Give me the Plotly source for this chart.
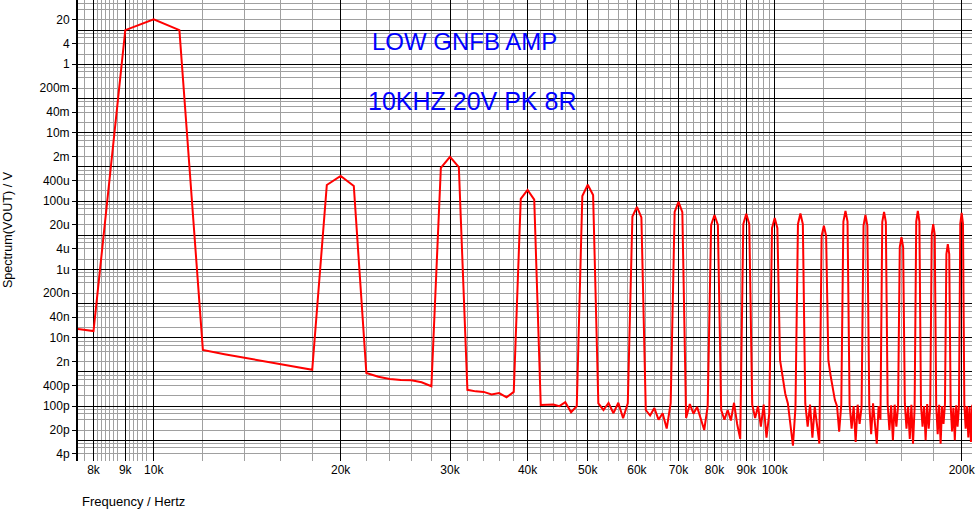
import plotly.graph_objects as go

# ---------------- data ----------------
# FFT bins, 1 kHz apart, 7 kHz .. 210 kHz
freq_hz = [k * 1000 for k in range(7, 211)]

# first two bins (7k, 8k)
head_vals = [22e-9, 15.7e-9]

# harmonic peaks: (n*10k - 1k, n*10k, n*10k + 1k), n = 1..20
peak_vals = [
    (10.0, 20.7, 10.0),
    (295e-6, 540e-6, 275e-6),
    (0.93e-3, 1.95e-3, 0.98e-3),
    (115e-6, 210e-6, 110e-6),
    (140e-6, 300e-6, 150e-6),
    (35e-6, 67e-6, 33e-6),
    (48e-6, 94e-6, 47e-6),
    (20e-6, 39e-6, 20e-6),
    (21e-6, 42e-6, 21e-6),
    (16e-6, 32e-6, 16e-6),
    (21e-6, 43e-6, 21e-6),
    (9.5e-6, 19e-6, 9.5e-6),
    (25e-6, 51e-6, 25e-6),
    (19e-6, 39e-6, 19e-6),
    (24e-6, 48e-6, 24e-6),
    (4.5e-6, 8.8e-6, 4.5e-6),
    (25e-6, 51e-6, 25e-6),
    (10.5e-6, 21e-6, 10.5e-6),
    (2.8e-6, 5.5e-6, 2.8e-6),
    (22e-6, 45e-6, 22e-6),
]

# floor between peaks: bins n*10k+2k .. n*10k+8k, n = 1..19
p = 1e-12
floor_vals = [
    [4.4e-9, 3.3e-9, 2.6e-9, 2.1e-9, 1.7e-9, 1.35e-9, 1.15e-9],
    [0.93e-9, 0.72e-9, 0.62e-9, 0.58e-9, 0.57e-9, 0.50e-9, 0.38e-9],
    [0.30e-9, 0.27e-9, 0.26e-9, 0.22e-9, 0.24e-9, 0.18e-9, 0.26e-9],
    [108 * p, 110 * p, 112 * p, 100 * p, 130 * p, 66 * p, 100 * p],
    [120 * p, 77 * p, 123 * p, 62 * p, 125 * p, 44 * p, 121 * p],
    [77 * p, 53 * p, 88 * p, 40 * p, 62 * p, 22 * p, 121 * p],
    [45 * p, 115 * p, 60 * p, 95 * p, 45 * p, 20 * p, 100 * p],
    [77 * p, 40 * p, 77 * p, 38 * p, 125 * p, 30 * p, 11 * p],
    [110 * p, 45 * p, 100 * p, 25 * p, 110 * p, 12 * p, 60 * p],
    [2.2e-9, 600 * p, 230 * p, 120 * p, 30 * p, 7 * p, 90 * p],
    [120 * p, 25 * p, 110 * p, 12 * p, 95 * p, 28 * p, 8 * p],
    [2.2e-9, 800 * p, 300 * p, 150 * p, 100 * p, 18 * p, 110 * p],
    [115 * p, 22 * p, 100 * p, 9 * p, 110 * p, 30 * p, 95 * p],
    [110 * p, 15 * p, 120 * p, 28 * p, 8 * p, 100 * p, 40 * p],
    [115 * p, 20 * p, 105 * p, 10 * p, 110 * p, 25 * p, 100 * p],
    [120 * p, 22 * p, 95 * p, 11 * p, 110 * p, 8 * p, 90 * p],
    [110 * p, 25 * p, 100 * p, 10 * p, 115 * p, 22 * p, 95 * p],
    [105 * p, 15 * p, 110 * p, 8 * p, 100 * p, 30 * p, 115 * p],
    [110 * p, 18 * p, 90 * p, 10 * p, 105 * p, 25 * p, 100 * p],
]

# last bins 202k .. 210k
tail_vals = [115 * p, 22 * p, 100 * p, 12 * p, 95 * p, 9 * p, 110 * p, 30 * p, 15 * p]

spectrum = list(head_vals)
for i, pk in enumerate(peak_vals):
    spectrum += list(pk)
    if i < len(floor_vals):
        spectrum += floor_vals[i]
spectrum += tail_vals

# axis ticks / labels
x_tick_vals = [8e3, 9e3, 10e3, 20e3, 30e3, 40e3, 50e3, 60e3, 70e3, 80e3, 90e3, 100e3, 200e3]
x_tick_text = ["8k", "9k", "10k", "20k", "30k", "40k", "50k", "60k", "70k", "80k", "90k", "100k", "200k"]
x_minor_vals = ([7750, 8125, 8250, 8375, 8500, 8625, 8750,
                 9140, 9280, 9430, 9590, 9730,
                 12e3, 14e3, 16e3, 18e3]
                + [k * 1000 for k in range(22, 100, 2) if k % 10 != 0]
                + [120e3, 140e3, 160e3, 180e3])

y_tick_vals = [20, 4, 1, 0.2, 0.04, 0.01, 2e-3, 4e-4, 1e-4, 2e-5, 4e-6, 1e-6,
               2e-7, 4e-8, 1e-8, 2e-9, 4e-10, 1e-10, 2e-11, 4e-12]
y_tick_text = ["20", "4", "1", "200m", "40m", "10m", "2m", "400u", "100u", "20u", "4u", "1u",
               "200n", "40n", "10n", "2n", "400p", "100p", "20p", "4p"]
y_decades = [10.0 ** e for e in range(-12, 2)]
y_minor_vals = [m * 10.0 ** e for e in range(-12, 2) for m in (2, 4, 6, 8)]

X_RANGE = [3.8781, 5.3177]
Y_RANGE = [-11.606, 1.881]

FONT = "Liberation Sans, Arial, sans-serif"
GRAY = "#a0a0a0"

fig = go.Figure()
# invisible copy on the overlay axis that carries the black decade grid
fig.add_trace(go.Scatter(
    x=freq_hz, y=spectrum, mode="lines", yaxis="y2",
    line=dict(color="rgba(0,0,0,0)", width=0),
    showlegend=False, hoverinfo="skip",
))
fig.add_trace(go.Scatter(
    x=freq_hz, y=spectrum, mode="lines",
    line=dict(color="#ff0000", width=2),
    showlegend=False, hoverinfo="x+y",
))

fig.update_layout(
    width=976, height=509,
    margin=dict(l=78, r=4, t=0, b=48, autoexpand=False),
    paper_bgcolor="white", plot_bgcolor="white",
    font=dict(family=FONT, size=12, color="black"),
    xaxis=dict(
        type="log", range=X_RANGE, automargin=False,
        tickmode="array", tickvals=x_tick_vals, ticktext=x_tick_text,
        showgrid=True, gridcolor="black", gridwidth=1,
        ticks="", showline=False, zeroline=False,
        tickfont=dict(family=FONT, size=12, color="black"),
        minor=dict(tickvals=x_minor_vals, showgrid=True, gridcolor=GRAY, gridwidth=1, ticks=""),
    ),
    yaxis=dict(
        type="log", range=Y_RANGE, automargin=False,
        tickmode="array", tickvals=y_tick_vals, ticktext=y_tick_text,
        showgrid=False, ticks="outside", ticklen=4, tickwidth=1, tickcolor="black",
        showline=True, linecolor="black", linewidth=2, zeroline=False,
        tickfont=dict(family=FONT, size=12, color="black"),
        minor=dict(tickvals=y_minor_vals, showgrid=True, gridcolor=GRAY, gridwidth=1, ticks=""),
    ),
    yaxis2=dict(
        type="log", range=Y_RANGE, overlaying="y", side="left", automargin=False,
        tickmode="array", tickvals=y_decades,
        showticklabels=False, ticks="", showgrid=True, gridcolor="black", gridwidth=1,
        showline=False, zeroline=False,
    ),
    annotations=[
        dict(text="LOW GNFB AMP", xref="paper", yref="paper", x=0.4318, y=0.9089,
             xanchor="center", yanchor="middle", showarrow=False,
             font=dict(family=FONT, size=24, color="#0000ff")),
        dict(text="10KHZ 20V PK 8R", xref="paper", yref="paper", x=0.4402, y=0.7809,
             xanchor="center", yanchor="middle", showarrow=False,
             font=dict(family=FONT, size=25, color="#0000ff")),
        dict(text="Spectrum(VOUT) / V", xref="paper", yref="paper", x=-0.0783, y=0.503,
             xanchor="center", yanchor="middle", textangle=-90, showarrow=False,
             font=dict(family=FONT, size=12.6, color="black")),
        dict(text="Frequency / Hertz", xref="paper", yref="paper", x=0.0022, y=-0.0889,
             xanchor="left", yanchor="middle", showarrow=False,
             font=dict(family=FONT, size=13, color="black")),
    ],
)

# the page body has a default 8px margin; remove it so the figure fills the window
fig.write_html("out.html", config={"displayModeBar": False},
               post_script="document.body.style.margin='0';")
